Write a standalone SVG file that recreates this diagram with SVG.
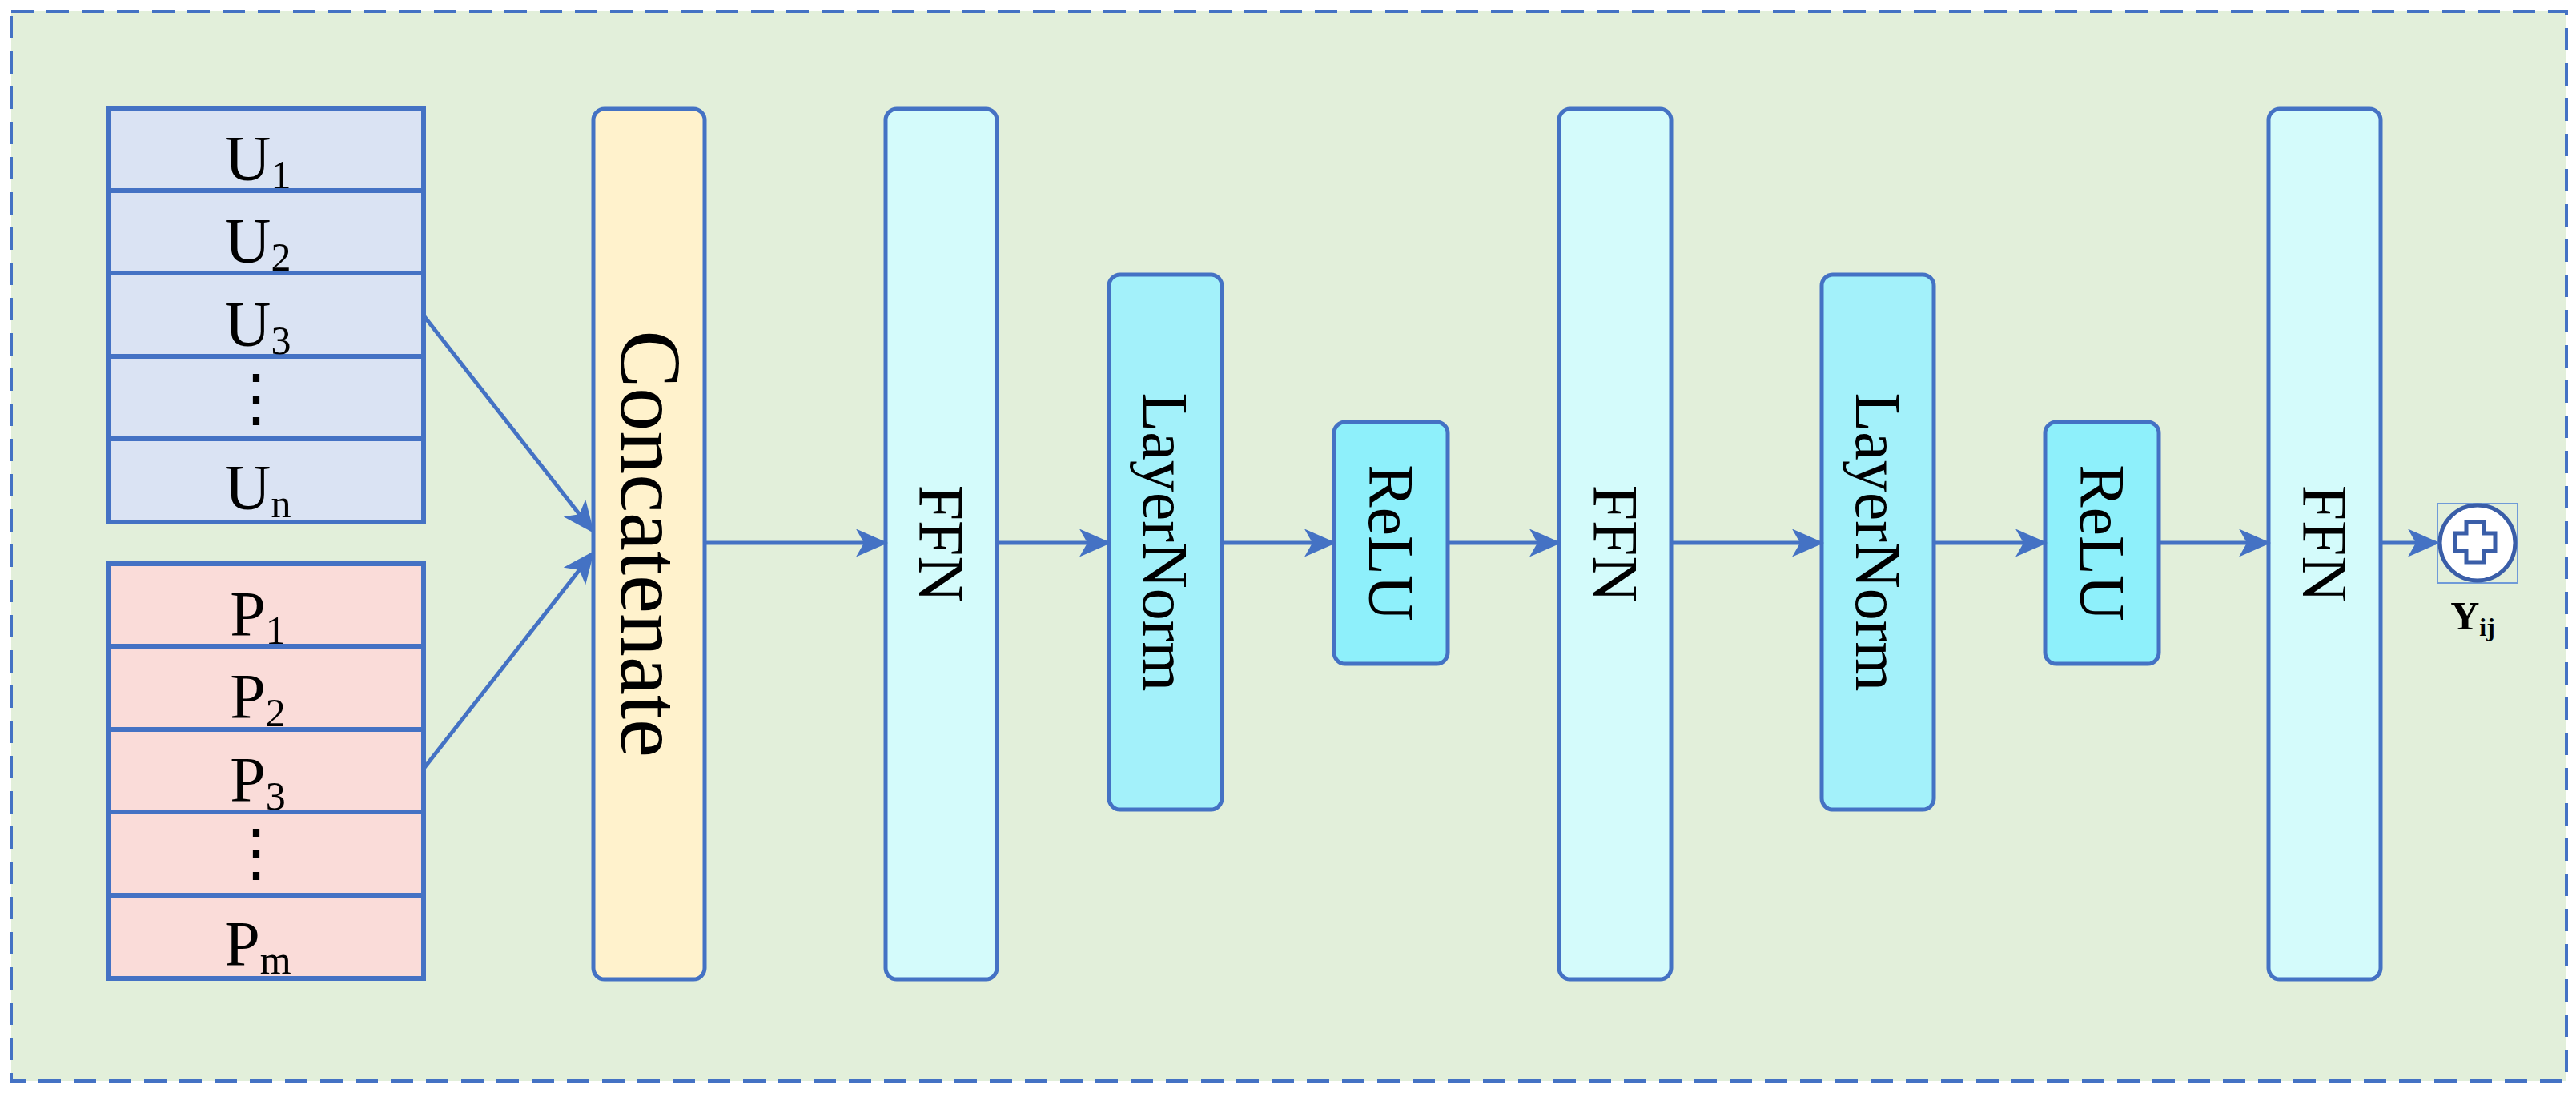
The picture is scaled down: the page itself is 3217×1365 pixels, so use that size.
<svg xmlns="http://www.w3.org/2000/svg" width="3217" height="1365" viewBox="0 0 3217 1365">
<defs>
<style>
.cell{stroke:#4472c4;stroke-width:6}
.u{fill:#dae3f3}.p{fill:#fadcd9}
.box{stroke:#4472c4;stroke-width:5}
.t{font-family:"Liberation Serif",serif;font-size:80px;fill:#000;text-anchor:middle}
.s{font-size:50px}
.v{font-family:"Liberation Serif",serif;font-size:80px;fill:#000;text-anchor:middle;dominant-baseline:central}
.big{font-size:108px}
.c{stroke:#4472c4;stroke-width:5;fill:none;marker-end:url(#a)}
</style>
<marker id="a" markerWidth="8" markerHeight="7" refX="7" refY="3.5" orient="auto" markerUnits="strokeWidth"><path d="M0,0L8,3.5L0,7L2,3.5z" fill="#4472c4"/></marker>
</defs>
<rect x="14" y="14" width="3191" height="1336" fill="#e2efda" stroke="#4472c4" stroke-width="4" stroke-dasharray="28,16"/>
<g id="U">
<rect class="cell u" x="135" y="135" width="394" height="103"/>
<rect class="cell u" x="135" y="238" width="394" height="103"/>
<rect class="cell u" x="135" y="341" width="394" height="104"/>
<rect class="cell u" x="135" y="445" width="394" height="103"/>
<rect class="cell u" x="135" y="548" width="394" height="104"/>
<text class="t" x="322" y="225">U<tspan class="s" dy="10">1</tspan></text>
<text class="t" x="322" y="328">U<tspan class="s" dy="10">2</tspan></text>
<text class="t" x="322" y="432">U<tspan class="s" dy="10">3</tspan></text>
<text class="t" x="320" y="524">⋮</text>
<text class="t" x="322" y="636">U<tspan class="s" dy="10">n</tspan></text>
</g>
<g id="P">
<rect class="cell p" x="135" y="704" width="394" height="103"/>
<rect class="cell p" x="135" y="807" width="394" height="104"/>
<rect class="cell p" x="135" y="911" width="394" height="103"/>
<rect class="cell p" x="135" y="1014" width="394" height="104"/>
<rect class="cell p" x="135" y="1118" width="394" height="104"/>
<text class="t" x="322" y="794">P<tspan class="s" dy="10">1</tspan></text>
<text class="t" x="322" y="897">P<tspan class="s" dy="10">2</tspan></text>
<text class="t" x="322" y="1001">P<tspan class="s" dy="10">3</tspan></text>
<text class="t" x="320" y="1092">⋮</text>
<text class="t" x="322" y="1206">P<tspan class="s" dy="10">m</tspan></text>
</g>
<g id="concat"><rect class="box" x="741" y="136" width="139" height="1087" rx="14" fill="#fff2cc"/><text class="v big" transform="translate(812,679) rotate(90)">Concatenate</text></g>
<g id="ffn1"><rect class="box" x="1106" y="136" width="139" height="1087" rx="14" fill="#d4fbfb"/><text class="v" transform="translate(1175,679) rotate(90)">FFN</text></g>
<g id="ln1"><rect class="box" x="1385" y="343" width="141" height="668" rx="14" fill="#a3f1fa"/><text class="v" transform="translate(1455,677) rotate(90)">LayerNorm</text></g>
<g id="relu1"><rect class="box" x="1666" y="527" width="142" height="302" rx="14" fill="#8ef0fb"/><text class="v" transform="translate(1737,678) rotate(90)">ReLU</text></g>
<g id="ffn2"><rect class="box" x="1947" y="136" width="140" height="1087" rx="14" fill="#d4fbfb"/><text class="v" transform="translate(2017,679) rotate(90)">FFN</text></g>
<g id="ln2"><rect class="box" x="2275" y="343" width="140" height="668" rx="14" fill="#a3f1fa"/><text class="v" transform="translate(2345,677) rotate(90)">LayerNorm</text></g>
<g id="relu2"><rect class="box" x="2554" y="527" width="142" height="302" rx="14" fill="#8ef0fb"/><text class="v" transform="translate(2625,678) rotate(90)">ReLU</text></g>
<g id="ffn3"><rect class="box" x="2833" y="136" width="140" height="1087" rx="14" fill="#d4fbfb"/><text class="v" transform="translate(2903,679) rotate(90)">FFN</text></g>
<g id="out">
<rect x="3044" y="629" width="100" height="99" fill="none" stroke="#6f9ad8" stroke-width="2"/>
<circle cx="3094" cy="678" r="47" fill="#fff" stroke="#3a5ea8" stroke-width="5"/>
<path d="M3080,652h22v14h14v22h-14v14h-22v-14h-14v-22h14z" fill="#fff" stroke="#3a5ea8" stroke-width="5"/>
<text x="3088" y="786" font-family="Liberation Serif,serif" font-weight="bold" font-size="50" text-anchor="middle">Y<tspan font-size="32" dy="8">ij</tspan></text>
</g>
<g id="connectors">
<path class="c" d="M529,394L739,662"/>
<path class="c" d="M529,960L739,692"/>
<path class="c" d="M880,678H1104"/>
<path class="c" d="M1245,678H1383"/>
<path class="c" d="M1526,678H1664"/>
<path class="c" d="M1808,678H1945"/>
<path class="c" d="M2087,678H2273"/>
<path class="c" d="M2415,678H2552"/>
<path class="c" d="M2696,678H2831"/>
<path class="c" d="M2973,678H3042"/>
</g>
</svg>
